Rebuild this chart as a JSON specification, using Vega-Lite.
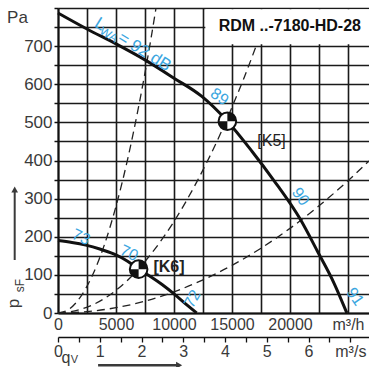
{
  "$schema": "https://vega.github.io/schema/vega-lite/v6.json",
  "width": 311,
  "height": 305,
  "autosize": "none",
  "padding": {"left": 58, "top": 8, "right": 0, "bottom": 54},
  "background": "white",
  "config": {
    "view": {"stroke": null},
    "font": "Liberation Sans Narrow, Liberation Sans, sans-serif",
    "text": {"font": "Liberation Sans Narrow, Liberation Sans, sans-serif"}
  },
  "encoding": {
    "y": {
      "field": "p",
      "type": "quantitative",
      "scale": {"domain": [0, 800], "nice": false, "zero": false},
      "axis": {
        "title": null,
        "values": [0, 50, 100, 150, 200, 250, 300, 350, 400, 450, 500, 550, 600, 650, 700, 750, 800],
        "format": "d",
        "labelExpr": "datum.value % 100 === 0 && datum.value < 800 ? datum.label : ''",
        "domainColor": "#111",
        "domainWidth": 2,
        "ticks": true,
        "tickColor": "#111",
        "tickWidth": 1.5,
        "tickSize": 4,
        "grid": true,
        "gridColor": "#1a1a1a",
        "gridWidth": 1.6,
        "labelFontSize": 17,
        "labelColor": "#3a3a3a",
        "labelPadding": 2,
        "labelFont": "Liberation Sans Narrow, Liberation Sans, sans-serif"
      }
    }
  },
  "layer": [
    {
      "encoding": {
        "x": {
          "field": "flow",
          "type": "quantitative",
          "scale": {"domain": [0, 26810], "nice": false, "zero": false},
          "axis": {
            "title": null,
            "orient": "bottom",
            "values": [0, 2500, 5000, 7500, 10000, 12500, 15000, 17500, 20000, 22500, 25000],
            "format": "d",
            "labelExpr": "datum.value === 25000 ? 'm³/h' : (datum.value % 5000 === 0 ? datum.label : '')",
            "domainColor": "#111",
            "domainWidth": 2,
            "ticks": false,
            "grid": true,
            "gridColor": "#1a1a1a",
            "gridWidth": 1.6,
            "labelFontSize": 16,
            "labelColor": "#3a3a3a",
            "labelPadding": 3,
            "labelFlush": false,
            "labelOverlap": false,
            "labelFont": "Liberation Sans Narrow, Liberation Sans, sans-serif"
          }
        }
      },
      "layer": [
        {
          "data": {"values": [
            {"curve": "A", "flow": 0, "p": 0}, {"curve": "A", "flow": 1000, "p": 11}, {"curve": "A", "flow": 2000, "p": 45},
            {"curve": "A", "flow": 3000, "p": 101}, {"curve": "A", "flow": 4000, "p": 179}, {"curve": "A", "flow": 5000, "p": 280},
            {"curve": "A", "flow": 6000, "p": 403}, {"curve": "A", "flow": 7000, "p": 549}, {"curve": "A", "flow": 8000, "p": 717},
            {"curve": "A", "flow": 8450, "p": 800},
            {"curve": "B", "flow": 0, "p": 0}, {"curve": "B", "flow": 2000, "p": 10}, {"curve": "B", "flow": 4000, "p": 38},
            {"curve": "B", "flow": 6000, "p": 86}, {"curve": "B", "flow": 8000, "p": 154}, {"curve": "B", "flow": 10000, "p": 240},
            {"curve": "B", "flow": 12000, "p": 346}, {"curve": "B", "flow": 14000, "p": 470}, {"curve": "B", "flow": 15000, "p": 540},
            {"curve": "B", "flow": 16000, "p": 614}, {"curve": "B", "flow": 17000, "p": 694}, {"curve": "B", "flow": 17600, "p": 745},
            {"curve": "C", "flow": 0, "p": 0}, {"curve": "C", "flow": 2500, "p": 3.5}, {"curve": "C", "flow": 5000, "p": 14},
            {"curve": "C", "flow": 7500, "p": 31}, {"curve": "C", "flow": 10000, "p": 55.5}, {"curve": "C", "flow": 12500, "p": 87},
            {"curve": "C", "flow": 15000, "p": 125}, {"curve": "C", "flow": 17500, "p": 170}, {"curve": "C", "flow": 20000, "p": 222},
            {"curve": "C", "flow": 22500, "p": 281}, {"curve": "C", "flow": 25000, "p": 347}, {"curve": "C", "flow": 26810, "p": 399}
          ]},
          "mark": {"type": "line", "color": "#222", "strokeWidth": 1.3, "strokeDash": [8, 5], "interpolate": "monotone"},
          "encoding": {"detail": {"field": "curve"}}
        },
        {
          "data": {"values": [{"flow": 12700, "flow2": 26810, "p": 705, "p2": 797}]},
          "mark": {"type": "rect", "color": "white", "opacity": 1},
          "encoding": {"x2": {"field": "flow2"}, "y2": {"field": "p2"}}
        },
        {
          "data": {"values": [{"label": "RDM ..-7180-HD-28", "flow": 26121, "p": 753}]},
          "mark": {"type": "text", "align": "right", "baseline": "middle", "fontSize": 16, "fontWeight": "bold", "color": "#111"},
          "encoding": {"text": {"field": "label"}}
        },
        {
          "data": {"values": [
            {"speed": "K5", "flow": 0, "p": 787}, {"speed": "K5", "flow": 2500, "p": 745}, {"speed": "K5", "flow": 5000, "p": 706},
            {"speed": "K5", "flow": 7500, "p": 664}, {"speed": "K5", "flow": 10000, "p": 616}, {"speed": "K5", "flow": 12400, "p": 568},
            {"speed": "K5", "flow": 14600, "p": 503}, {"speed": "K5", "flow": 16700, "p": 425}, {"speed": "K5", "flow": 18600, "p": 348},
            {"speed": "K5", "flow": 20900, "p": 245}, {"speed": "K5", "flow": 22400, "p": 160}, {"speed": "K5", "flow": 23800, "p": 78},
            {"speed": "K5", "flow": 24900, "p": 0},
            {"speed": "K6", "flow": 0, "p": 190}, {"speed": "K6", "flow": 1200, "p": 185}, {"speed": "K6", "flow": 2400, "p": 178},
            {"speed": "K6", "flow": 3600, "p": 168}, {"speed": "K6", "flow": 4800, "p": 155}, {"speed": "K6", "flow": 6000, "p": 136},
            {"speed": "K6", "flow": 6950, "p": 115}, {"speed": "K6", "flow": 8000, "p": 95}, {"speed": "K6", "flow": 9000, "p": 74},
            {"speed": "K6", "flow": 10000, "p": 50}, {"speed": "K6", "flow": 11000, "p": 24}, {"speed": "K6", "flow": 11950, "p": 0}
          ]},
          "mark": {"type": "line", "color": "#111", "strokeWidth": 3, "interpolate": "monotone"},
          "encoding": {"detail": {"field": "speed"}}
        },
        {
          "data": {"name": "operating", "values": [{"point": "K5", "flow": 14600, "p": 503}, {"point": "K6", "flow": 6950, "p": 115}]},
          "mark": {"type": "point", "shape": "circle", "filled": true, "fill": "white", "stroke": "#111", "strokeWidth": 2, "size": 310, "opacity": 1}
        },
        {
          "data": {"name": "operating"},
          "mark": {"type": "point", "shape": "M0,0L0,-1A1,1,0,0,1,1,0ZM0,0L0,1A1,1,0,0,1,-1,0Z", "filled": true, "fill": "#111", "strokeWidth": 0, "size": 310, "opacity": 1}
        },
        {
          "data": {"values": [{"label": "[K5]", "flow": 18405, "p": 451}]},
          "mark": {"type": "text", "align": "center", "baseline": "middle", "fontSize": 16, "color": "#222"},
          "encoding": {"text": {"field": "label"}}
        },
        {
          "data": {"values": [{"label": "[K6]", "flow": 9569, "p": 120}]},
          "mark": {"type": "text", "align": "center", "baseline": "middle", "fontSize": 16, "fontWeight": "bold", "color": "#222"},
          "encoding": {"text": {"field": "label"}}
        },
        {
          "data": {"values": [{"label": "L", "flow": 3069, "p": 752.6}, {"label": "= 92 dB", "flow": 5060, "p": 714.7}]},
          "mark": {"type": "text", "align": "left", "baseline": "alphabetic", "angle": 32, "fontSize": 17, "color": "#3ba6df"},
          "encoding": {"text": {"field": "label"}}
        },
        {
          "data": {"values": [{"label": "WA", "flow": 3517, "p": 734.7}]},
          "mark": {"type": "text", "align": "left", "baseline": "alphabetic", "angle": 32, "fontSize": 12, "color": "#3ba6df"},
          "encoding": {"text": {"field": "label"}}
        },
        {
          "data": {"values": [{"label": "89", "flow": 13922, "p": 567}]},
          "mark": {"type": "text", "angle": 35, "fontSize": 16, "color": "#3ba6df"},
          "encoding": {"text": {"field": "label"}}
        },
        {
          "data": {"values": [{"label": "90", "flow": 20905, "p": 305}]},
          "mark": {"type": "text", "angle": 55, "fontSize": 16, "color": "#3ba6df"},
          "encoding": {"text": {"field": "label"}}
        },
        {
          "data": {"values": [{"label": "91", "flow": 25603, "p": 43}]},
          "mark": {"type": "text", "angle": 55, "fontSize": 16, "color": "#3ba6df"},
          "encoding": {"text": {"field": "label"}}
        },
        {
          "data": {"values": [{"label": "73", "flow": 1983, "p": 199}, {"label": "70", "flow": 6121, "p": 157}]},
          "mark": {"type": "text", "angle": 25, "fontSize": 16, "color": "#3ba6df"},
          "encoding": {"text": {"field": "label"}}
        },
        {
          "data": {"values": [{"label": "72", "flow": 11595, "p": 37}]},
          "mark": {"type": "text", "angle": -60, "fontSize": 16, "color": "#3ba6df"},
          "encoding": {"text": {"field": "label"}}
        },
        {
          "data": {"values": [{"label": "Pa", "flow": -3491, "p": 774}]},
          "mark": {"type": "text", "fontSize": 17, "color": "#3a3a3a"},
          "encoding": {"text": {"field": "label"}}
        },
        {
          "data": {"values": [{"label": "p", "flow": -3793, "p": 25}]},
          "mark": {"type": "text", "angle": 270, "fontSize": 17, "color": "#3a3a3a"},
          "encoding": {"text": {"field": "label"}}
        },
        {
          "data": {"values": [{"label": "sF", "flow": -3276, "p": 72}]},
          "mark": {"type": "text", "angle": 270, "fontSize": 12, "color": "#3a3a3a"},
          "encoding": {"text": {"field": "label"}}
        },
        {
          "data": {"values": [{"flow": -3733, "p": 139, "p2": 322}]},
          "mark": {"type": "rule", "color": "#3a3a3a", "strokeWidth": 2},
          "encoding": {"y2": {"field": "p2"}}
        },
        {
          "data": {"values": [{"flow": -3733, "p": 324}]},
          "mark": {"type": "point", "shape": "triangle-up", "filled": true, "fill": "#3a3a3a", "strokeWidth": 0, "size": 45, "opacity": 1}
        },
        {
          "data": {"values": [{"label": "q", "flow": 690, "p": -117}]},
          "mark": {"type": "text", "fontSize": 16, "color": "#3a3a3a"},
          "encoding": {"text": {"field": "label"}}
        },
        {
          "data": {"values": [{"label": "V", "flow": 1422, "p": -124}]},
          "mark": {"type": "text", "fontSize": 11, "color": "#3a3a3a"},
          "encoding": {"text": {"field": "label"}}
        }
      ]
    },
    {
      "encoding": {
        "x": {
          "field": "qs",
          "type": "quantitative",
          "scale": {"domain": [0, 7.4472], "nice": false, "zero": false},
          "axis": {
            "title": null,
            "orient": "bottom",
            "offset": 24,
            "values": [0, 0.5, 1, 1.5, 2, 2.5, 3, 3.5, 4, 4.5, 5, 5.5, 6, 6.5, 7],
            "format": "~g",
            "labelExpr": "datum.value === 7 ? 'm³/s' : (datum.value % 1 === 0 ? datum.label : '')",
            "domainColor": "#111",
            "domainWidth": 1.5,
            "ticks": true,
            "tickColor": "#111",
            "tickWidth": 1.3,
            "tickSize": 5,
            "grid": false,
            "labelFontSize": 16,
            "labelColor": "#3a3a3a",
            "labelPadding": 1,
            "labelFlush": false,
            "labelOverlap": false,
            "labelFont": "Liberation Sans Narrow, Liberation Sans, sans-serif"
          }
        }
      },
      "layer": [
        {
          "data": {"values": [{"qs": 0.96, "qs2": 2.9, "p": -137}]},
          "mark": {"type": "rule", "color": "#3a3a3a", "strokeWidth": 2.5},
          "encoding": {"x2": {"field": "qs2"}}
        },
        {
          "data": {"values": [{"qs": 2.9, "p": -137}]},
          "mark": {"type": "point", "shape": "triangle-right", "filled": true, "fill": "#3a3a3a", "strokeWidth": 0, "size": 50, "opacity": 1}
        }
      ]
    }
  ],
  "resolve": {"scale": {"x": "independent"}}
}
